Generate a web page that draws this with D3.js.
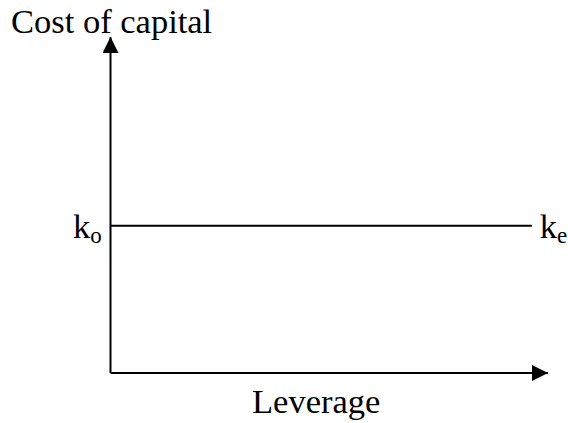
<!DOCTYPE html>
<html lang="en">
<head>
  <meta charset="UTF-8">
  <title>Cost of capital vs Leverage</title>
  <script src="https://d3js.org/d3.v7.min.js"></script>
  <style>
    body { margin: 0; background: white; }
    text { font-family: 'Liberation Serif', 'Times New Roman', serif; fill: black; }
  </style>
</head>
<body>
  <svg width="568" height="423"></svg>
  <script>
    // leverage points and the flat cost of capital line (ko = ke)
    const leverage = [0, 0.963];
    const costOfCapital = [0.46, 0.46];
    const xLabel = "Leverage";
    const yLabel = "Cost of capital";

    const svg = d3.select("svg");

    const x = d3.scaleLinear().domain([0, 1]).range([110.5, 548]);
    const y = d3.scaleLinear().domain([0, 1]).range([373, 53]);

    svg.append("defs").append("marker")
      .attr("id", "arrow")
      .attr("viewBox", "0 0 16 16")
      .attr("refX", 16).attr("refY", 8)
      .attr("markerWidth", 16).attr("markerHeight", 16)
      .attr("markerUnits", "userSpaceOnUse")
      .attr("orient", "auto")
      .append("path")
      .attr("d", "M0,0 L16,8 L0,16 Z")
      .attr("fill", "black");

    // axes
    svg.append("line")
      .attr("x1", x(0)).attr("y1", y(0))
      .attr("x2", x(0)).attr("y2", 37)
      .attr("stroke", "black").attr("stroke-width", 2)
      .attr("marker-end", "url(#arrow)");

    svg.append("line")
      .attr("x1", x(0)).attr("y1", y(0))
      .attr("x2", x(1)).attr("y2", y(0))
      .attr("stroke", "black").attr("stroke-width", 2)
      .attr("marker-end", "url(#arrow)");

    // the line
    const line = d3.line()
      .x((d, i) => x(leverage[i]))
      .y(d => y(d));

    svg.append("path")
      .datum(costOfCapital)
      .attr("d", line)
      .attr("fill", "none")
      .attr("stroke", "black")
      .attr("stroke-width", 2);

    svg.append("text")
      .attr("x", 11).attr("y", 33)
      .style("font-size", "34.5px")
      .text(yLabel);

    svg.append("text")
      .attr("x", 252).attr("y", 413)
      .style("font-size", "34.5px")
      .text(xLabel);

    // k labels with subscripts
    function kLabel(xp, yp, sub) {
      const t = svg.append("text")
        .attr("x", xp).attr("y", yp)
        .style("font-size", "34.5px");
      t.append("tspan").text("k");
      t.append("tspan").attr("dy", 5).style("font-size", "23px").text(sub);
    }
    kLabel(73, y(costOfCapital[0]) + 12, "o");
    kLabel(x(leverage[1]) + 8, y(costOfCapital[1]) + 12, "e");
  </script>
</body>
</html>
